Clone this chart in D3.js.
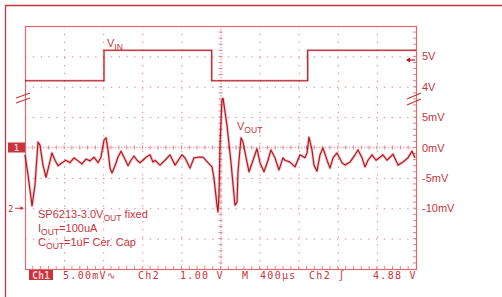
<!DOCTYPE html>
<html>
<head>
<meta charset="utf-8">
<script src="https://cdn.jsdelivr.net/npm/d3@7"></script>
<style>
body{margin:0;background:#fff;}
svg{display:block;}
</style>
</head>
<body>
<svg id="canvas"></svg>
<script>
// Ch1 : VOUT ripple (AC, mV) against time (us)
let outTime=[0,31,72,102,133,153,184,215,246,276,307,338,379,419,460,501,542,583,624,665,706,747,777,808,829,849,870,890,921,951,982,1013,1054,1084,1115,1146,1176,1207,1238,1279,1309,
  1330,1381,1432,1483,1535,1606,1637,1688,1729,1770,1821,1872,1913,1933,1964,1974,1985,1995,2015,2026,2066,2107,2148,2169,2179,2210,2230,2271,2292,2333,2373,2404,2445,2486,2516,2557,2598,2639,
  2660,2711,2762,2813,2864,2885,2905,2936,2956,2987,3018,3049,3090,3120,3151,3192,3243,3274,3325,3376,3407,3448,3478,3509,3550,3591,3632,3662,3703,3734,3765,3816,3867,3918,3959,3990];
let outMv=[-1.2,-4.5,-9.6,-6.2,0.9,0.4,-2.9,-4.9,-2.9,-0.9,-2.1,-3.0,-2.5,-2.1,-2.5,-1.7,-2.2,-2.7,-1.9,-2.2,-1.6,-2.5,-1.6,1.2,1.6,-0.4,-3.4,-4.2,-3.0,-1.6,-0.6,-1.6,-3.0,-2.1,-1.4,-2.1,-2.5,-2.1,-1.6,-1.2,-2.4,
  -2.1,-2.9,-2.1,-1.2,-2.9,-1.2,-1.7,-3.4,-1.7,-1.6,-1.6,-2.5,-3.2,-5.0,-9.5,-10.6,-7.8,0.4,7.8,8.1,3.7,-2.4,-9.5,-9.0,-4.0,1.6,0.9,-2.4,-4.0,-2.1,-0.2,-2.5,-4.0,-2.1,-0.4,-1.7,-3.7,-1.7,
  -2.1,-2.4,-3.2,-1.2,-1.7,-0.9,1.7,-0.4,-2.9,-3.9,-1.2,-0.1,-2.1,-3.4,-1.7,-0.9,-2.5,-2.9,-2.4,-1.2,-0.4,-1.7,-3.2,-2.1,-1.2,-2.1,-1.6,-1.2,-2.1,-1.6,-1.1,-2.9,-2.4,-1.7,-0.6,-1.7];

// Ch2 : VIN step (V)
let inTime=[0,808,808,1910,1910,2892,2892,4000];
let inVolt=[4.2,4.2,5.2,5.2,4.2,4.2,5.2,5.2];

let voutTicks=[5,0,-5,-10];
let vinTicks=[5,4];
let triggerLevel=4.88;

let statusTexts=['5.00mV\u223F','Ch2','1.00 V','M','400\u00B5s','Ch2 \u222B','4.88 V'];
let noteLines=[['SP6213-3.0V','OUT',' fixed'],['I','OUT','=100uA'],['C','OUT','=1uF Cer. Cap']];

let width=502, height=297;
let plotL=25, plotR=416, plotT=26, plotB=269;
let red='#c8343c', trace='#b8161f', grid='#e0868d';

let canvas=d3.select('#canvas').attr('width',width).attr('height',height);

let xscale=d3.scaleLinear().domain([0,4000]).range([plotL,plotR]);
let yOut=d3.scaleLinear().domain([-20,20]).range([plotB,plotT]);
let yIn=d3.scaleLinear().domain([-2,6]).range([plotB,plotT]);

function drawFrame(){
  // outer screen frame
  canvas.append('line').attr('x1',5).attr('x2',width).attr('y1',5.5).attr('y2',5.5)
    .attr('stroke',red).attr('stroke-width',1.3);
  canvas.append('line').attr('x1',5.5).attr('x2',5.5).attr('y1',5).attr('y2',height)
    .attr('stroke',red).attr('stroke-width',1.3);
}

function drawGrid(){
  let g=canvas.append('g');
  let vx=d3.range(1,10).map(k=>k*400);
  let hy=[-15,-10,-5,5,10,15];
  g.selectAll('.vg').data(vx.filter(d=>d!==2000)).enter().append('line')
    .attr('x1',d=>xscale(d)+0.5).attr('x2',d=>xscale(d)+0.5)
    .attr('y1',plotT).attr('y2',plotB)
    .attr('stroke',grid).attr('stroke-dasharray','1.4,6.4');
  g.selectAll('.hg').data(hy).enter().append('line')
    .attr('y1',d=>yOut(d)+0.5).attr('y2',d=>yOut(d)+0.5)
    .attr('x1',plotL).attr('x2',plotR)
    .attr('stroke',grid).attr('stroke-dasharray','1.4,6.4');
  // centre lines
  g.append('line').attr('x1',xscale(2000)+0.5).attr('x2',xscale(2000)+0.5).attr('y1',plotT).attr('y2',plotB)
    .attr('stroke','#eeb0b4').attr('stroke-width',1.5).attr('stroke-dasharray','1.5,1.5');
  g.append('line').attr('y1',yOut(0)).attr('y2',yOut(0)).attr('x1',plotL).attr('x2',plotR)
    .attr('stroke','#eeb0b4').attr('stroke-width',1.5).attr('stroke-dasharray','1.5,1.5');
  // minor ticks on the centre lines and on the border
  let tx=d3.range(0,4000,80).slice(1);
  let ty=d3.range(-20,20,1).slice(1);
  g.selectAll('.tx').data(tx).enter().append('line')
    .attr('x1',d=>xscale(d)).attr('x2',d=>xscale(d))
    .attr('y1',yOut(0)-2).attr('y2',yOut(0)+2).attr('stroke',grid);
  g.selectAll('.ty').data(ty).enter().append('line')
    .attr('y1',d=>yOut(d)).attr('y2',d=>yOut(d))
    .attr('x1',xscale(2000)-2).attr('x2',xscale(2000)+2).attr('stroke',grid);
  g.selectAll('.bx').data(tx).enter().append('line')
    .attr('x1',d=>xscale(d)).attr('x2',d=>xscale(d))
    .attr('y1',plotB-3).attr('y2',plotB).attr('stroke',grid);
  g.selectAll('.by').data(ty).enter().append('line')
    .attr('y1',d=>yOut(d)).attr('y2',d=>yOut(d))
    .attr('x1',plotR-3).attr('x2',plotR).attr('stroke',grid);
  g.append('rect').attr('x',plotL+0.5).attr('y',plotT+0.5).attr('width',plotR-plotL).attr('height',plotB-plotT)
    .attr('fill','none').attr('stroke','#de6a70').attr('stroke-width',1.2);
}

function drawTraces(){
  let outData=outTime.map((t,i)=>[t,outMv[i]]);
  let inData=inTime.map((t,i)=>[t,inVolt[i]]);
  let lineOut=d3.line().x(d=>xscale(d[0])).y(d=>yOut(d[1]));
  let lineIn=d3.line().x(d=>xscale(d[0])).y(d=>yIn(d[1]));
  canvas.append('path').attr('d',lineIn(inData)).attr('fill','none')
    .attr('stroke',trace).attr('stroke-opacity',0.22).attr('stroke-width',2.6);
  canvas.append('path').attr('d',lineIn(inData)).attr('fill','none')
    .attr('stroke',trace).attr('stroke-width',1.1);
  canvas.append('path').attr('d',lineOut(outData)).attr('fill','none')
    .attr('stroke',trace).attr('stroke-opacity',0.22).attr('stroke-width',3).attr('stroke-linejoin','round');
  canvas.append('path').attr('d',lineOut(outData)).attr('fill','none')
    .attr('stroke',trace).attr('stroke-width',1.2).attr('stroke-linejoin','round');
}

function drawAxis(){
  let ax1=d3.axisRight(yIn).tickValues(vinTicks).tickSize(0).tickPadding(6).tickFormat(d=>d+'V');
  let ax2=d3.axisRight(yOut).tickValues(voutTicks).tickSize(0).tickPadding(6).tickFormat(d=>d+'mV');
  [ax1,ax2].forEach(ax=>{
    let g=canvas.append('g').attr('transform','translate('+plotR+',0)').call(ax);
    g.select('.domain').remove();
    g.selectAll('text').attr('fill',red).attr('font-family','Liberation Sans, Arial, sans-serif').attr('font-size',11);
  });
  // break marks between the two scales
  [[16,98,30,93],[16,103,30,98],[407,99,421,93],[407,105,421,99]].forEach(p=>{
    canvas.append('line').attr('x1',p[0]).attr('y1',p[1]).attr('x2',p[2]).attr('y2',p[3])
      .attr('stroke',red).attr('stroke-width',1.3);
  });
  // trigger level arrow
  let ty=yIn(triggerLevel);
  canvas.append('line').attr('x1',plotR-9).attr('x2',plotR-1).attr('y1',ty).attr('y2',ty).attr('stroke',trace).attr('stroke-width',1.2);
  canvas.append('path').attr('d','M'+(plotR-10)+','+ty+'l4,-2.5v5z').attr('fill',trace);
  // channel markers
  canvas.append('rect').attr('x',8).attr('y',yOut(0)-5).attr('width',17).attr('height',10).attr('fill',red);
  canvas.append('text').attr('x',16.5).attr('y',yOut(0)+3.5).attr('text-anchor','middle')
    .attr('fill','#f4c8ca').attr('font-family','DejaVu Sans Mono, monospace').attr('font-size',9).attr('font-weight','bold').text('1');
  canvas.append('text').attr('x',8).attr('y',yIn(0)+3.5).attr('fill',red)
    .attr('font-family','DejaVu Sans Mono, monospace').attr('font-size',9).text('2');
  canvas.append('line').attr('x1',15).attr('x2',23).attr('y1',yIn(0)).attr('y2',yIn(0)).attr('stroke',red);
  canvas.append('path').attr('d','M'+24+','+yIn(0)+'l-3.5,-2v4z').attr('fill',red);
}

function drawLabels(){
  let font='Liberation Sans, Arial, sans-serif';
  function sub(x,y,parts,size){
    let t=canvas.append('text').attr('x',x).attr('y',y).attr('fill',red).attr('font-family',font).attr('font-size',size);
    t.append('tspan').text(parts[0]);
    t.append('tspan').attr('dy',2.5).attr('font-size',size*0.78).text(parts[1]);
    if(parts[2]) t.append('tspan').attr('dy',-2.5).text(parts[2]);
  }
  sub(107,47,['V','IN'],11);
  sub(237,130,['V','OUT'],11);
  noteLines.forEach((p,i)=>sub(38,218+i*14,p,11));

  // status bar
  let sy=279;
  canvas.append('rect').attr('x',29).attr('y',270).attr('width',24).attr('height',10).attr('fill',red);
  canvas.append('text').attr('x',41).attr('y',sy-0.5).attr('text-anchor','middle').attr('fill','#f4c8ca')
    .attr('font-family','DejaVu Sans Mono, monospace').attr('font-size',10).attr('font-weight','bold').text('Ch1');
  let sx=[63,138,180,242,260,309,373];
  canvas.selectAll('.status').data(statusTexts).enter().append('text')
    .attr('x',(d,i)=>sx[i]).attr('y',sy).attr('fill',red)
    .attr('font-family','DejaVu Sans Mono, monospace').attr('font-size',10).attr('letter-spacing',1.3)
    .text(d=>d);
}

drawFrame();
drawGrid();
drawTraces();
drawAxis();
drawLabels();
</script>
</body>
</html>
